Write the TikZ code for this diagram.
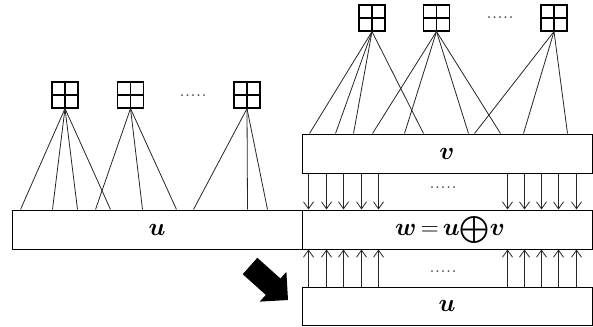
\documentclass[tikz,border=0pt]{standalone}
\usepackage{amsmath,amssymb,bm}
\usetikzlibrary{arrows.meta}
\tikzset{
  box/.style={draw, line width=1pt, minimum width=290pt, minimum height=39pt, inner sep=0pt, font=\fontsize{27}{30}\selectfont},
  grid/.style={draw, line width=1.1pt, minimum size=26pt, inner sep=0pt,
    path picture={\draw[line width=1.1pt] (path picture bounding box.north) -- (path picture bounding box.south)
      (path picture bounding box.west) -- (path picture bounding box.east);}},
  wire/.style={line width=0.8pt, black!85},
  arr/.style={line width=0.8pt, black!85, -{Straight Barb[length=7pt,width=10pt,line width=0.8pt]}},
  dots/.style={font=\fontsize{22}{24}\selectfont, text=black!75, inner sep=0pt},
}
\begin{document}
\begin{tikzpicture}[x=1pt,y=-1pt]
\useasboundingbox (0,0) rectangle (593,326);
% boxes
\node[box] (ul) at (157,229.5) {$\bm{u}$};
\node[box] (vb) at (447,153.5) {$\bm{v}$};
\node[box] (wb) at (447,229.5) {\hspace*{6pt}$\bm{w}\,{=}\,\bm{u}{\textstyle\bigoplus}\bm{v}$};
\node[box, minimum height=38pt] (ub) at (447,306) {$\bm{u}$};
% left grid squares
\node[grid] (s1) at (65,95) {};
\node[grid] (s2) at (130.5,95) {};
\node[grid] (s3) at (247,95) {};
\node[dots] (d1) at (193,96) {.....};
% right grid squares
\node[grid] (r1) at (372,18) {};
\node[grid] (r2) at (436.5,18) {};
\node[grid] (r3) at (554,18) {};
\node[dots] (d2) at (500,18) {.....};
% left wires
\foreach \dx in {9,41,66,99} \draw[wire] (s1.south) -- ([xshift=\dx pt]ul.north west);
\foreach \dx in {84,131,165} \draw[wire] (s2.south) -- ([xshift=\dx pt]ul.north west);
\foreach \dx in {182,236,256} \draw[wire] (s3.south) -- ([xshift=\dx pt]ul.north west);
% right wires
\foreach \dx in {8,34,52,122} \draw[wire] (r1.south) -- ([xshift=\dx pt]vb.north west);
\foreach \dx in {71,103,167,199} \draw[wire] (r2.south) -- ([xshift=\dx pt]vb.north west);
\foreach \dx in {173,222,266} \draw[wire] (r3.south) -- ([xshift=\dx pt]vb.north west);
% arrows
\foreach \dx in {7,25,42,60,77,206,223,240,257,275} {
  \draw[arr] ([xshift=\dx pt]vb.south west) -- ([xshift=\dx pt]wb.north west);
  \draw[arr] ([xshift=\dx pt]ub.north west) -- ([xshift=\dx pt]wb.south west);
}
\node[dots] (d3) at (443,188) {.....};
\node[dots] (d4) at (443,272) {.....};
% black block arrow
\fill[black] (242.7,274.2) -- (257.3,257.8) -- (280.4,278.5) -- (286.4,271.8)
  -- (288,300) -- (259.7,301.6) -- (265.8,294.9) -- cycle;
\end{tikzpicture}
\end{document}
